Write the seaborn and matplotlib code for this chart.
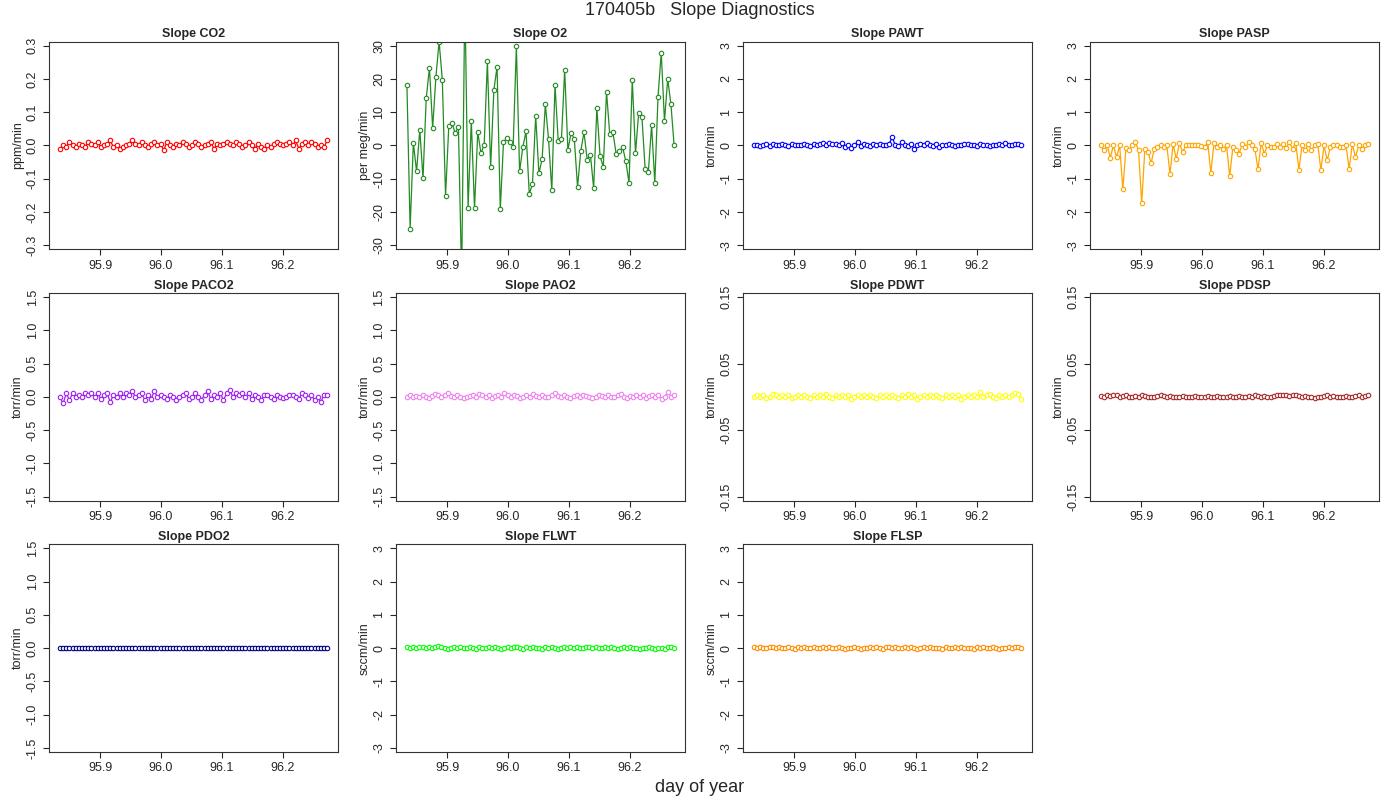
import numpy as np
import pandas as pd
import matplotlib
matplotlib.use("Agg")
import matplotlib.pyplot as plt
import seaborn as sns

# day-of-year range of the slope points
day_start, day_end = 95.834, 96.273

o2 = [18.3, -25.0, 0.8, -7.8, 4.7, -9.9, 14.2, 23.3, 5.2, 20.6, 31.2, 19.7, -15.2, 5.7,
      6.7, 3.7, 5.6, -40.0, 45.0, -18.7, 7.4, -18.9, 4.0, -2.3, 0.2, 25.3, -6.6, 16.6,
      23.6, -19.2, 0.9, 2.3, 1.0, -0.4, 29.8, -7.8, -0.5, 4.2, -14.5, -11.6, 8.9, -8.4,
      -4.0, 12.4, 1.8, -13.5, 18.2, 1.3, 1.8, 22.7, -1.4, 3.8, 1.9, -12.5, -1.7, 4.0,
      -4.3, -2.8, -12.8, 11.3, -3.3, -6.4, 16.1, 3.4, 3.9, -2.6, -1.8, -0.5, -4.8, -11.3,
      19.8, -2.3, 9.9, 8.6, -7.2, -7.9, 6.1, -11.3, 14.7, 27.9, 7.3, 20.0, 12.4, 0.0]

co2 = [-0.01, 0.0, -0.005, 0.01, 0.0, -0.005, 0.005, 0.0, -0.005, 0.01, 0.005, 0.0,
       0.01, -0.005, 0.0, 0.005, 0.015, -0.005, 0.0, -0.01, -0.005, 0.0, 0.005, 0.015,
       0.005, 0.0, 0.01, 0.0, -0.005, 0.005, 0.01, 0.0, 0.005, -0.015, 0.01, 0.0, -0.005,
       0.005, 0.0, 0.01, 0.005, -0.005, 0.0, 0.01, 0.005, -0.005, 0.0, 0.005, 0.01, -0.01,
       0.005, 0.0, 0.005, 0.01, 0.005, 0.0, 0.01, 0.005, -0.005, 0.0, 0.01, 0.0, -0.01,
       0.005, -0.005, -0.01, 0.0, -0.005, 0.005, 0.01, 0.005, 0.0, 0.005, 0.01, 0.0, 0.015,
       -0.01, 0.005, 0.01, 0.0, 0.01, 0.005, -0.005, 0.0, -0.005, 0.015]

pawt = [0.02, 0.0, -0.03, 0.0, 0.03, -0.02, 0.05, 0.02, 0.0, 0.04, 0.02, -0.01, 0.03,
        0.01, 0.0, 0.02, 0.05, 0.01, -0.02, 0.03, 0.0, 0.04, 0.06, 0.02, 0.08, 0.05, 0.03,
        0.01, 0.06, -0.05, 0.02, -0.08, 0.0, 0.1, -0.03, 0.04, 0.0, -0.02, 0.03, 0.01,
        0.05, 0.02, 0.0, 0.03, 0.25, 0.0, -0.02, 0.1, 0.02, -0.03, 0.04, -0.1, 0.0, 0.05,
        0.02, 0.06, 0.0, -0.02, 0.03, -0.05, 0.02, 0.0, 0.03, 0.01, -0.01, 0.02, 0.0, 0.03,
        0.05, 0.0, 0.02, -0.02, 0.03, 0.0, 0.01, -0.03, 0.0, 0.02, 0.04, 0.01, 0.06, 0.02,
        0.0, 0.03, 0.04, 0.02]

pasp = [0.0, -0.15, 0.02, -0.37, 0.0, -0.35, 0.0, -1.32, -0.08, -0.15, 0.0, 0.1, -0.15,
        -1.74, -0.12, -0.2, -0.53, -0.1, -0.05, 0.02, -0.05, 0.0, -0.86, 0.05, -0.42,
        0.08, -0.2, 0.0, 0.0, 0.0, 0.0, 0.0, -0.02, -0.05, 0.1, -0.83, 0.08, -0.05, 0.02,
        -0.1, 0.0, -0.93, -0.05, -0.15, -0.25, 0.05, -0.05, 0.1, 0.0, -0.1, -0.72, 0.08,
        -0.25, 0.0, -0.05, -0.05, 0.05, -0.05, 0.05, -0.08, 0.1, -0.1, 0.08, -0.73, 0.0,
        -0.15, 0.05, -0.15, 0.0, 0.05, -0.74, 0.0, -0.45, -0.05, 0.0, 0.0, -0.05, -0.05,
        0.0, -0.72, 0.05, -0.36, 0.0, -0.1, 0.0, 0.05]

paco2 = [0.0, -0.1, 0.05, -0.05, 0.05, 0.0, 0.03, 0.0, 0.05, 0.02, 0.06, 0.0, 0.05,
         -0.03, 0.02, 0.05, -0.08, 0.03, 0.0, 0.05, 0.0, 0.05, 0.02, 0.08, 0.0, 0.03,
         0.05, -0.05, 0.02, -0.03, 0.08, 0.0, 0.03, 0.0, -0.03, 0.02, 0.0, -0.05, 0.0,
         0.03, 0.05, -0.03, 0.0, 0.05, 0.0, -0.05, 0.03, 0.08, -0.03, 0.02, 0.0, 0.05,
         -0.05, 0.05, 0.1, 0.0, 0.05, 0.02, 0.05, 0.0, 0.05, -0.03, 0.02, 0.0, -0.05, 0.02,
         0.03, 0.0, -0.03, 0.02, 0.0, -0.02, 0.0, 0.03, 0.02, 0.0, -0.03, 0.05, 0.03,
         -0.02, 0.02, -0.05, 0.0, -0.08, 0.03, 0.02]

pao2 = [0.0, 0.02, 0.0, 0.01, 0.0, 0.03, 0.0, -0.02, 0.01, 0.04, 0.02, 0.0, 0.03, 0.05,
        0.01, 0.0, 0.03, 0.0, -0.02, 0.0, 0.01, 0.02, 0.0, 0.04, 0.02, 0.0, 0.03, -0.02,
        0.01, 0.02, 0.0, 0.05, 0.02, 0.0, 0.03, 0.01, -0.02, 0.0, 0.02, 0.0, 0.04, 0.01,
        0.0, 0.02, -0.01, 0.0, 0.03, 0.05, 0.01, 0.0, 0.02, 0.0, -0.02, 0.01, 0.03, 0.0,
        0.02, 0.01, 0.0, -0.02, 0.0, 0.03, 0.01, 0.0, 0.02, -0.01, 0.0, 0.02, 0.04, 0.0,
        -0.02, 0.01, 0.0, 0.03, 0.0, 0.02, -0.02, 0.01, 0.03, 0.0, 0.02, -0.03, 0.0, 0.07,
        0.0, 0.02]

pdwt = [0.0, 0.002, 0.0, 0.003, -0.002, 0.0, 0.004, 0.002, 0.0, 0.003, 0.0, 0.002,
        -0.002, 0.0, 0.003, 0.0, 0.002, 0.0, -0.002, 0.003, 0.0, 0.002, 0.0, 0.004, 0.0,
        -0.002, 0.002, 0.0, 0.003, 0.0, 0.002, -0.003, 0.0, 0.002, 0.0, 0.003, 0.0, 0.002,
        0.0, -0.002, 0.003, 0.0, 0.002, 0.0, 0.003, 0.0, -0.002, 0.002, 0.0, 0.004, 0.0,
        0.002, -0.003, 0.0, 0.002, 0.0, 0.003, 0.0, 0.002, 0.0, -0.002, 0.003, 0.0, 0.002,
        0.0, 0.003, -0.003, 0.0, 0.002, 0.0, 0.003, 0.0, 0.007, 0.0, 0.002, 0.004, 0.0,
        -0.002, 0.002, 0.0, 0.003, 0.0, 0.002, 0.006, 0.004, -0.003]

pdsp = [0.001, 0.0, 0.002, 0.001, 0.003, 0.002, 0.0, 0.001, 0.002, 0.0, -0.001, 0.001,
        0.0, 0.002, 0.001, 0.0, -0.001, 0.0, 0.001, 0.002, 0.001, 0.0, 0.001, 0.0, -0.001,
        0.0, 0.001, 0.0, -0.001, 0.0, 0.001, 0.0, -0.001, 0.0, 0.001, 0.0, 0.0, 0.001, 0.0,
        -0.001, 0.0, 0.001, 0.0, 0.0, 0.001, 0.0, 0.0, 0.001, 0.0, 0.002, 0.001, 0.0,
        0.001, 0.0, 0.0, 0.001, 0.002, 0.002, 0.003, 0.002, 0.001, 0.002, 0.003, 0.001,
        0.0, 0.001, -0.001, 0.0, -0.002, 0.0, -0.001, 0.001, 0.002, 0.0, 0.001, 0.0,
        -0.001, 0.0, 0.001, 0.0, 0.0, 0.001, 0.002, 0.0, 0.001, 0.003]

pdo2 = [0.0] * 86

flwt = [0.02, 0.0, 0.03, 0.0, 0.02, 0.04, 0.01, 0.03, 0.0, 0.02, 0.05, 0.02, 0.0,
        -0.02, 0.01, 0.03, 0.0, 0.02, 0.0, 0.01, 0.03, 0.0, -0.02, 0.02, 0.0, 0.01, 0.03,
        0.0, 0.02, 0.0, -0.03, 0.01, 0.03, 0.0, 0.02, 0.04, 0.0, -0.02, 0.02, 0.0, 0.03,
        0.01, 0.0, -0.03, 0.02, 0.0, 0.03, 0.0, -0.02, 0.01, 0.03, 0.0, 0.02, 0.0, 0.03,
        0.01, 0.0, 0.02, 0.03, 0.0, 0.02, 0.0, 0.01, 0.03, 0.0, 0.02, 0.0, -0.04, 0.01,
        0.02, 0.0, 0.03, 0.01, 0.0, -0.02, 0.01, 0.0, 0.03, 0.0, -0.02, 0.01, 0.0, -0.03,
        0.02, 0.04, 0.01]

flsp = [0.02, 0.0, 0.03, 0.01, 0.0, 0.02, 0.03, 0.0, 0.02, 0.0, 0.01, 0.03, 0.0, -0.02,
        0.02, 0.0, 0.03, 0.01, 0.0, 0.02, -0.01, 0.0, 0.02, 0.0, 0.03, 0.01, 0.0, 0.02,
        0.0, -0.02, 0.01, 0.0, 0.02, 0.0, -0.02, 0.01, 0.0, 0.02, 0.0, 0.03, 0.0, -0.02,
        0.02, 0.04, 0.0, 0.02, 0.0, 0.01, 0.03, 0.0, 0.02, 0.0, -0.02, 0.01, 0.02, 0.0,
        0.03, 0.0, 0.01, 0.0, -0.02, 0.02, 0.0, 0.01, 0.03, 0.0, 0.02, 0.0, 0.01, 0.0,
        -0.02, 0.02, 0.0, 0.03, 0.0, 0.01, 0.02, 0.0, -0.02, 0.01, 0.0, 0.03, 0.0, 0.02,
        0.04, 0.0]

panels = [
    ("Slope CO2", co2, "red", "ppm/min", 0.3, np.arange(-0.3, 0.31, 0.1), "%.1f"),
    ("Slope O2", o2, "forestgreen", "per meg/min", 30, np.arange(-30, 31, 10), "%d"),
    ("Slope PAWT", pawt, "blue", "torr/min", 3, np.arange(-3, 4, 1), "%d"),
    ("Slope PASP", pasp, "orange", "torr/min", 3, np.arange(-3, 4, 1), "%d"),
    ("Slope PACO2", paco2, "#A020F0", "torr/min", 1.5, np.arange(-1.5, 1.6, 0.5), "%.1f"),
    ("Slope PAO2", pao2, "violet", "torr/min", 1.5, np.arange(-1.5, 1.6, 0.5), "%.1f"),
    ("Slope PDWT", pdwt, "yellow", "torr/min", 0.15, [-0.15, -0.05, 0.05, 0.15], "%.2f"),
    ("Slope PDSP", pdsp, "brown", "torr/min", 0.15, [-0.15, -0.05, 0.05, 0.15], "%.2f"),
    ("Slope PDO2", pdo2, "navy", "torr/min", 1.5, np.arange(-1.5, 1.6, 0.5), "%.1f"),
    ("Slope FLWT", flwt, "lime", "sccm/min", 3, np.arange(-3, 4, 1), "%d"),
    ("Slope FLSP", flsp, "darkorange", "sccm/min", 3, np.arange(-3, 4, 1), "%d"),
]

sns.set_style("white")
plt.rcParams["font.family"] = "Liberation Sans"
fig, axes = plt.subplots(3, 4, figsize=(14, 8), dpi=100)
fig.subplots_adjust(left=0.035, right=0.985, top=0.948, bottom=0.06, wspace=0.2, hspace=0.21)

for ax, (title, vals, color, ylab, lim, ticks, fmt) in zip(axes.flat, panels):
    df = pd.DataFrame({"day": np.linspace(day_start, day_end, len(vals)), "slope": vals})
    sns.lineplot(data=df, x="day", y="slope", ax=ax, color=color, lw=0.9,
                 marker="o", markersize=3.2, markerfacecolor="white",
                 markeredgecolor=color, markeredgewidth=0.8)
    ax.set_xlim(95.816, 96.291)
    ax.set_ylim(-lim * 1.04, lim * 1.04)
    ax.set_xticks([95.9, 96.0, 96.1, 96.2])
    ax.set_xticklabels(["95.9", "96.0", "96.1", "96.2"], fontsize=9)
    ax.set_yticks(ticks)
    ax.set_yticklabels([fmt % t for t in ticks], fontsize=9, rotation=90, va="center")
    ax.tick_params(direction="out", length=4, left=True, bottom=True)
    ax.set_title(title, fontsize=9, fontweight="bold", pad=3)
    ax.set_xlabel("")
    ax.set_ylabel(ylab, fontsize=9, labelpad=2)
    for s in ax.spines.values():
        s.set_color("#333333")
        s.set_linewidth(0.8)

axes.flat[-1].axis("off")
fig.suptitle("170405b   Slope Diagnostics", fontsize=13, y=0.997)
fig.supxlabel("day of year", fontsize=13, y=0.005)
fig.savefig("out.png")
